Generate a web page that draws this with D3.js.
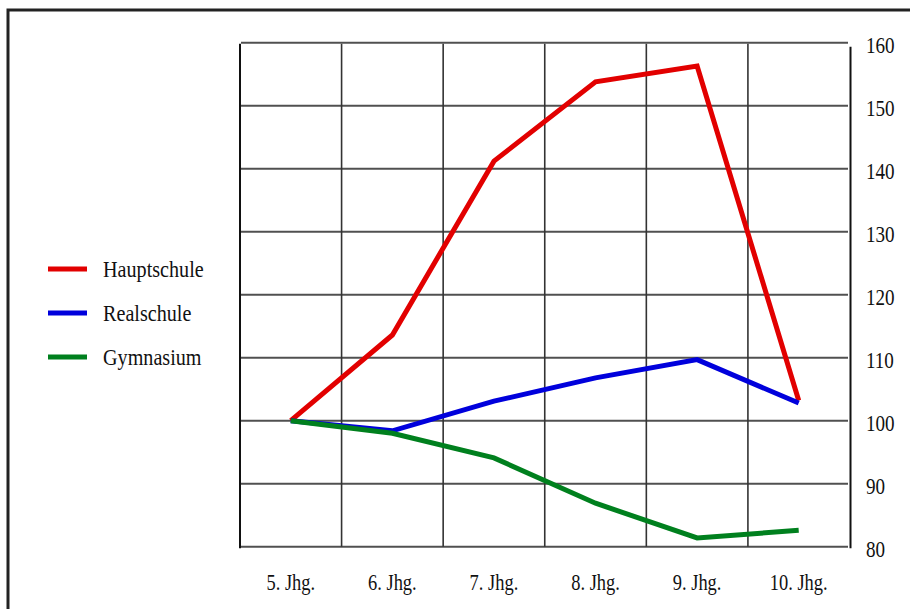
<!DOCTYPE html>
<html>
<head>
<meta charset="utf-8">
<script src="https://cdn.jsdelivr.net/npm/d3@7/dist/d3.min.js"></script>
<style>
  html, body { margin: 0; padding: 0; background: #fff; }
  svg { display: block; }
  text { font-family: "Liberation Serif", "Times New Roman", serif; fill: #111; }
</style>
</head>
<body>
<svg id="chart" width="910" height="609"></svg>
<script>
// Jahrgangsstufen
const categories = ["5. Jhg.", "6. Jhg.", "7. Jhg.", "8. Jhg.", "9. Jhg.", "10. Jhg."];

// Index values per school type (5. Jhg. = 100)
const hauptschule = [100, 113.6, 141.2, 153.8, 156.3, 103.2];
const realschule  = [100, 98.4, 103.1, 106.8, 109.7, 102.8];
const gymnasium   = [100, 98.0, 94.1, 86.9, 81.4, 82.6];

const seriesNames = ["Hauptschule", "Realschule", "Gymnasium"];
const yTicks = [80, 90, 100, 110, 120, 130, 140, 150, 160];

const series = [
  { name: seriesNames[0], values: hauptschule, color: "#e20000" },
  { name: seriesNames[1], values: realschule,  color: "#0000dc" },
  { name: seriesNames[2], values: gymnasium,   color: "#00801e" }
];

const svg = d3.select("#chart");
const plot = { left: 240, right: 849.5, top: 42.7, bottom: 546.7 };

const x = d3.scaleBand().domain(categories).range([plot.left, plot.right]).padding(0);
const y = d3.scaleLinear().domain([80, 160]).range([plot.bottom, plot.top]);
const cx = c => x(c) + x.bandwidth() / 2;

// outer frame (only top and left edges fall inside the view)
svg.append("path")
  .attr("d", "M8,609 V10 H910")
  .attr("fill", "none")
  .attr("stroke", "#222")
  .attr("stroke-width", 3);

// horizontal grid lines
svg.append("g").selectAll("line").data(yTicks).join("line")
  .attr("x1", plot.left + 1).attr("x2", plot.right - 1.5)
  .attr("y1", d => y(d)).attr("y2", d => y(d))
  .attr("stroke", "#505050").attr("stroke-width", 2);

// vertical grid lines at category boundaries
const inner = categories.slice(1).map(c => x(c));
svg.append("g").selectAll("line").data(inner).join("line")
  .attr("x1", d => d).attr("x2", d => d)
  .attr("y1", plot.top + 1).attr("y2", plot.bottom)
  .attr("stroke", "#333").attr("stroke-width", 1.6);

// left and right frame lines of the plot
svg.append("line")
  .attr("x1", plot.left).attr("x2", plot.left)
  .attr("y1", plot.top + 1).attr("y2", plot.bottom + 1.5)
  .attr("stroke", "#111").attr("stroke-width", 2);
svg.append("line")
  .attr("x1", plot.right + 1).attr("x2", plot.right + 1)
  .attr("y1", plot.top + 4).attr("y2", plot.bottom + 1.5)
  .attr("stroke", "#111").attr("stroke-width", 2);

// y tick labels on the right
svg.append("g").selectAll("text").data(yTicks).join("text")
  .attr("transform", d => `translate(866,${y(d) + 10.3}) scale(0.83,1)`)
  .attr("font-size", 23)
  .text(d => d);

// x category labels
svg.append("g").selectAll("text").data(categories).join("text")
  .attr("transform", d => `translate(${cx(d)},590) scale(0.82,1)`)
  .attr("text-anchor", "middle")
  .attr("font-size", 22.5)
  .text(d => d);

// series lines
const line = d3.line()
  .x((d, i) => cx(categories[i]))
  .y(d => y(d));

svg.append("g").selectAll("path").data(series).join("path")
  .attr("d", s => line(s.values))
  .attr("fill", "none")
  .attr("stroke", s => s.color)
  .attr("stroke-width", 5)
  .attr("stroke-linejoin", "miter")
  .attr("stroke-linecap", "butt");

// legend
const legend = svg.append("g").selectAll("g").data(series).join("g")
  .attr("transform", (s, i) => `translate(0,${269 + i * 44})`);
legend.append("line")
  .attr("x1", 48).attr("x2", 87)
  .attr("y1", 0).attr("y2", 0)
  .attr("stroke", s => s.color)
  .attr("stroke-width", 5);
legend.append("text")
  .attr("transform", `translate(103,7.8) scale(0.84,1)`)
  .attr("font-size", 24)
  .text(s => s.name);
</script>
</body>
</html>
